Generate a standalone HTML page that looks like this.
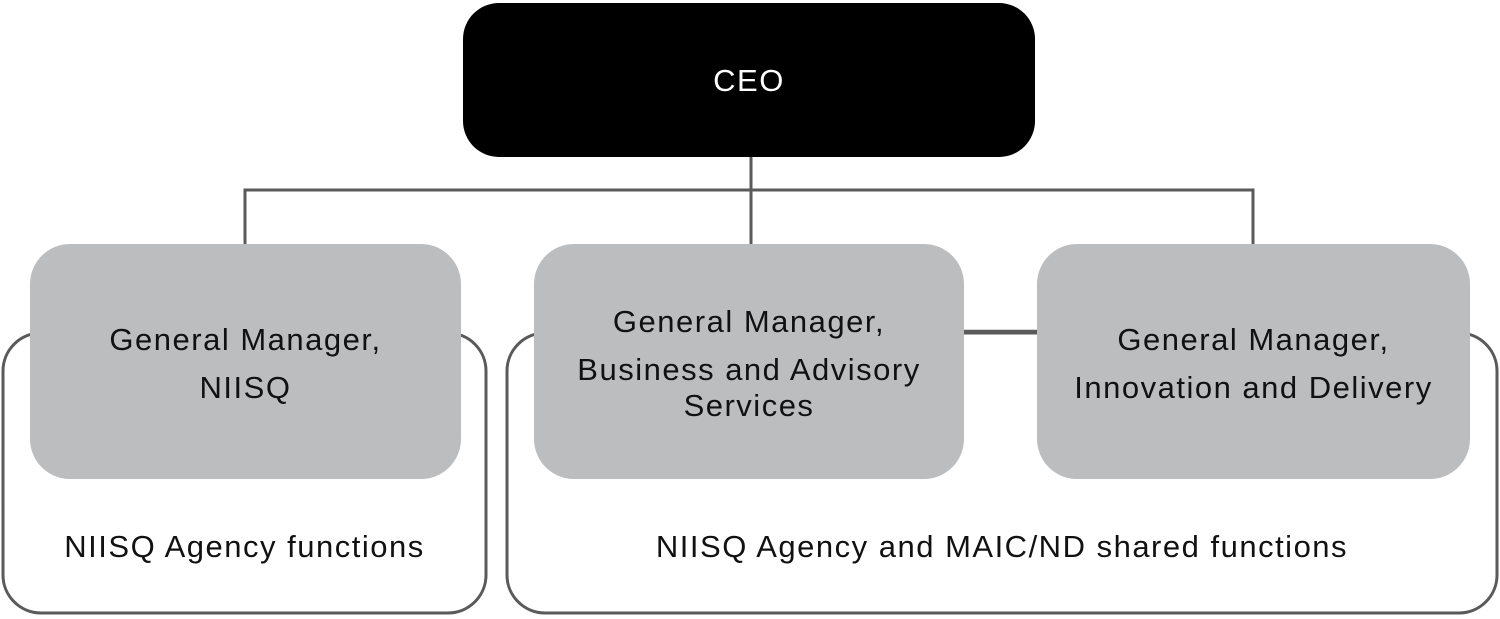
<!DOCTYPE html>
<html><head><style>
html,body{margin:0;padding:0;background:#fff;}
body{width:1500px;height:619px;position:relative;overflow:hidden;font-family:"Liberation Sans",sans-serif;}
.b{position:absolute;box-sizing:border-box;}
.t{position:absolute;width:100%;text-align:center;font-size:31px;letter-spacing:1.5px;color:#111;line-height:48px;}
</style></head><body>
<svg class="b" style="left:0;top:0" width="1500" height="619">
<g fill="none" stroke="#5a5a5a" stroke-width="3">
<rect x="3" y="333" width="483" height="280" rx="38"/>
<rect x="507" y="333" width="990" height="280" rx="38"/>
<path d="M751 157V244M245 244V190H1253V244"/>
</g>
<path d="M963 331H1037" stroke="#5a5a5a" stroke-width="2.5"/>
<rect x="463" y="3" width="572" height="154" rx="36" fill="#000"/>
<rect x="30" y="244" width="431" height="235" rx="40" fill="#bcbdbf"/>
<rect x="534" y="244" width="430" height="235" rx="40" fill="#bcbdbf"/>
<rect x="1037" y="244" width="433" height="235" rx="40" fill="#bcbdbf"/>
</svg>
<div class="b" style="left:463px;top:57px;width:572px"><div class="t" style="position:static;color:#fff">CEO</div></div>
<div class="b" style="left:30px;top:316px;width:431px;height:100px"><div class="t">General Manager,<br>NIISQ</div></div>
<div class="b" style="left:534px;top:298px;width:430px;height:140px"><div class="t" style="line-height:48px">General Manager,<br>Business and Advisory<br><span style="position:relative;top:-12px">Services</span></div></div>
<div class="b" style="left:1037px;top:316px;width:433px;height:100px"><div class="t">General Manager,<br>Innovation and Delivery</div></div>
<div class="b" style="left:3px;top:523px;width:483px"><div class="t">NIISQ Agency functions</div></div>
<div class="b" style="left:507px;top:523px;width:990px"><div class="t">NIISQ Agency and MAIC/ND shared functions</div></div>
</body></html>
